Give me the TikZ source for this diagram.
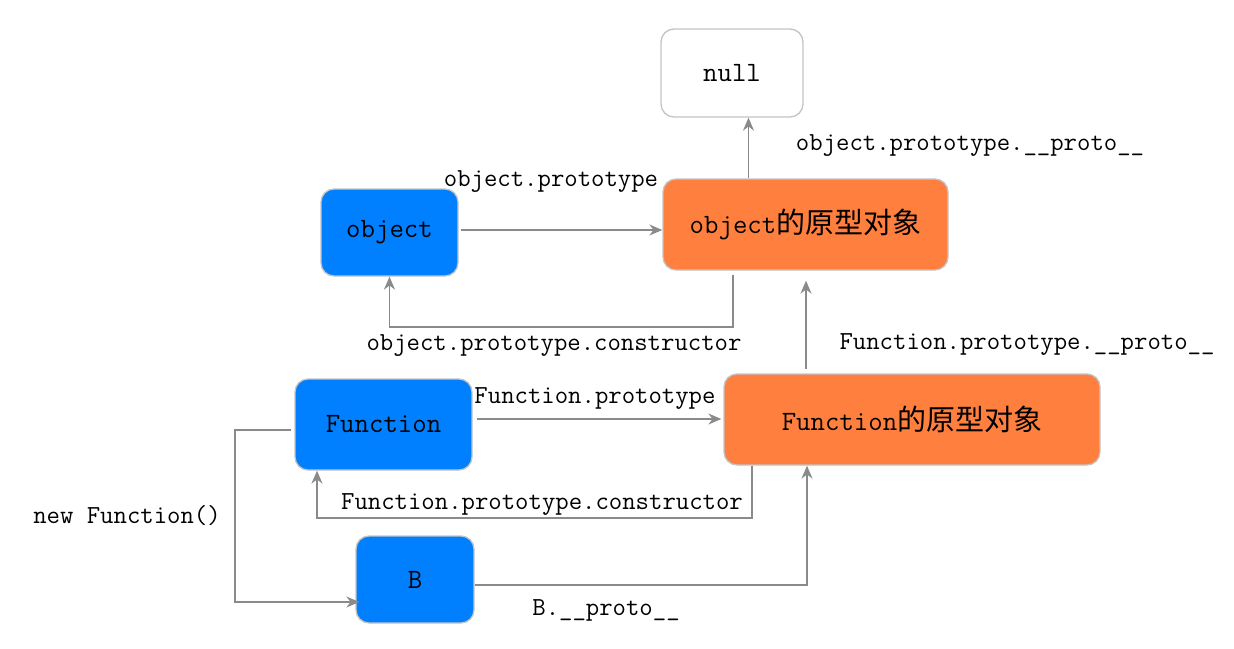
\documentclass[tikz,border=0pt]{standalone}
\usepackage{fontspec}
\newfontfamily\cjk{Noto Sans CJK SC}
\usetikzlibrary{arrows.meta}
\definecolor{jsblue}{HTML}{0080FF}
\definecolor{jsorange}{HTML}{FF7F3F}
\definecolor{edgegray}{HTML}{C4C4C4}
\definecolor{arrowgray}{HTML}{8A8A8A}
\tikzset{
  box/.style={draw=edgegray, line width=1.3pt, rounded corners=13pt, inner sep=0pt, font=\ttfamily\fontsize{28}{30}\selectfont},
  bluebox/.style={box, fill=jsblue},
  orangebox/.style={box, fill=jsorange},
  lbl/.style={inner sep=0pt, font=\ttfamily\fontsize{26}{30}\selectfont},
  conn/.style={draw=arrowgray, line width=1.6pt, -{Stealth[length=13pt,width=11pt]}},
}
\newcommand{\zh}[1]{{\cjk\fontsize{29}{32}\selectfont #1}}
\begin{document}
\begin{tikzpicture}[x=1pt,y=-1pt]
\path[use as bounding box] (0,0) rectangle (1234,648);

\node[box, fill=white, minimum width=142pt, minimum height=88pt] (null) at (732,73) {null};
\node[bluebox, minimum width=137pt, minimum height=87pt] (obj) at (389.5,232.5) {object};
\node[orangebox, minimum width=285pt, minimum height=91pt] (objp) at (805.5,224.5) {object\zh{的原型对象}};
\node[bluebox, minimum width=177pt, minimum height=91pt] (fn) at (383.5,424.5) {Function};
\node[orangebox, minimum width=376pt, minimum height=91pt] (fnp) at (912,419.5) {Function\zh{的原型对象}};
\node[bluebox, minimum width=118pt, minimum height=87pt] (b) at (415,579.5) {B};

% object -> object prototype
\coordinate (a1) at ([xshift=2pt,yshift=2.5pt]obj.east);
\draw[conn] (a1) -- (a1 -| objp.west);
\node[lbl] (l1) at (551,182) {object.prototype};

% object prototype -> null
\coordinate (a2) at ([xshift=-57pt]objp.north);
\draw[conn] (a2) -- (a2 |- null.south);
\node[lbl] (l2) at (970,146) {object.prototype.\_\_proto\_\_};

% object.prototype.constructor
\coordinate (c1) at (733,327);
\draw[conn] (c1 |- objp.south) ++(0,4) -- (c1) -| (obj.south);
\node[lbl] (l3) at (554,346) {object.prototype.constructor};

% Function prototype -> object prototype
\coordinate (a4) at ([xshift=-106pt,yshift=4pt]fnp.north);
\draw[conn] (a4) -- ([yshift=-10pt]a4 |- objp.south);
\node[lbl] (l4) at (1027,345) {Function.prototype.\_\_proto\_\_};

% Function -> Function prototype
\coordinate (a5) at ([xshift=4pt,yshift=5.5pt]fn.east);
\draw[conn] (a5) -- ([xshift=-2pt]a5 -| fnp.west);
\node[lbl] (l5) at (595,399) {Function.prototype};

% Function.prototype.constructor
\coordinate (c2) at (752,518);
\draw[conn] (c2 |- fnp.south) -- (c2) -| ([xshift=-66.5pt]fn.south);
\node[lbl] (l6) at (542,505) {Function.prototype.constructor};

% new Function()
\coordinate (c3) at ([xshift=-3pt,yshift=-5.5pt]fn.west);
\coordinate (c4) at (235,602);
\draw[conn] (c3) -- (c3 -| c4) -- (c4) -- ([xshift=4pt]b.west |- c4);
\node[lbl] (l7) at (127,516) {new Function()};

% B -> Function prototype
\coordinate (c5) at ([yshift=-5.5pt]b.east);
\coordinate (c6) at (807,585);
\draw[conn] (c5) -- (c5 -| c6) -- (c6 |- fnp.south);
\node[lbl] (l8) at (606,610) {B.\_\_proto\_\_};
\end{tikzpicture}
\end{document}
